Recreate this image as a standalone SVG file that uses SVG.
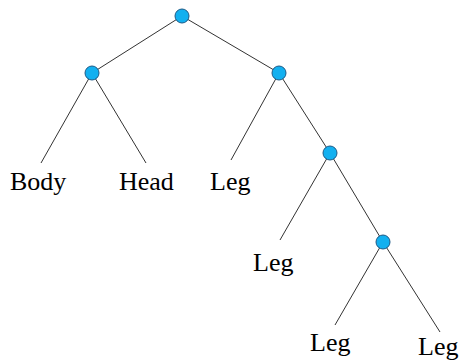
<svg xmlns="http://www.w3.org/2000/svg" width="461" height="361" viewBox="0 0 461 361">
<style>
.n{fill:#12b0f0;stroke:#1d5a86;stroke-width:1}
.e{stroke:#333;stroke-width:1;fill:none}
.t{font-family:"Liberation Serif",serif;font-size:26px;fill:#000}
</style>
<rect width="461" height="361" fill="#fff"/>
<g id="edges">
<line class="e" x1="182" y1="16" x2="92" y2="73"/>
<line class="e" x1="182" y1="16" x2="279" y2="73"/>
<line class="e" x1="92" y1="73" x2="41" y2="163"/>
<line class="e" x1="92" y1="73" x2="146" y2="163"/>
<line class="e" x1="279" y1="73" x2="231" y2="160"/>
<line class="e" x1="279" y1="73" x2="330" y2="153"/>
<line class="e" x1="330" y1="153" x2="280" y2="240"/>
<line class="e" x1="330" y1="153" x2="383" y2="242"/>
<line class="e" x1="383" y1="242" x2="335" y2="325"/>
<line class="e" x1="383" y1="242" x2="440" y2="332"/>
</g>
<g id="n0"><circle class="n" cx="182" cy="16" r="7"/></g>
<g id="n1"><circle class="n" cx="92" cy="73" r="7"/></g>
<g id="n2"><circle class="n" cx="279" cy="73" r="7"/></g>
<g id="n3"><circle class="n" cx="330" cy="153" r="7"/></g>
<g id="n4"><circle class="n" cx="383" cy="242" r="7"/></g>
<g id="body"><text class="t" x="10" y="190">Body</text></g>
<g id="head"><text class="t" x="119" y="190">Head</text></g>
<g id="leg1"><text class="t" x="210" y="190">Leg</text></g>
<g id="leg2"><text class="t" x="253" y="271">Leg</text></g>
<g id="leg3"><text class="t" x="310" y="351">Leg</text></g>
<g id="leg4"><text class="t" x="418" y="355">Leg</text></g>
</svg>
